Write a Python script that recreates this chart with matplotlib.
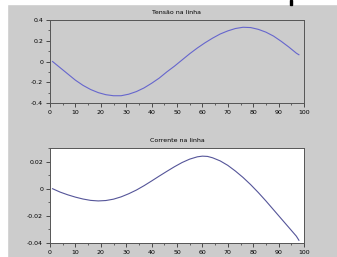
import numpy as np
import matplotlib.pyplot as plt
from matplotlib.patches import Rectangle
from matplotlib.ticker import MultipleLocator

# Tensão na linha
xv = [1, 4, 7, 10, 13, 16, 19, 22, 25, 28, 31, 34, 37, 40, 43, 46, 49, 52, 55, 58,
      61, 64, 67, 70, 73, 76, 79, 82, 85, 88, 91, 94, 97, 98]
tensao = [0.0, -0.06, -0.12, -0.18, -0.23, -0.27, -0.30, -0.32, -0.33, -0.33, -0.315,
          -0.29, -0.255, -0.21, -0.16, -0.10, -0.045, 0.015, 0.075, 0.13, 0.18, 0.225,
          0.265, 0.295, 0.318, 0.33, 0.327, 0.31, 0.283, 0.245, 0.195, 0.14, 0.08, 0.065]

# Corrente na linha
xi = [1, 4, 7, 10, 13, 16, 19, 22, 25, 28, 31, 34, 37, 40, 43, 46, 49, 52, 55, 58,
      60, 62, 64, 67, 70, 73, 76, 79, 82, 85, 88, 91, 94, 97, 98]
corrente = [0.0, -0.0025, -0.0045, -0.0062, -0.0076, -0.0086, -0.009, -0.0087, -0.0077,
            -0.006, -0.0037, -0.001, 0.0022, 0.0057, 0.0093, 0.0128, 0.0162, 0.0193,
            0.0218, 0.0235, 0.024, 0.0238, 0.0228, 0.0205, 0.0172, 0.013, 0.0083, 0.003,
            -0.0028, -0.009, -0.0155, -0.022, -0.0285, -0.035, -0.038]

gray = '#cccccc'
fig = plt.figure(figsize=(3.37, 2.57), dpi=100)
fig.patch.set_facecolor(gray)
# white strips at top / left edge, small black mark at top
fig.patches.append(Rectangle((0, 1 - 4/257), 1, 4/257, transform=fig.transFigure,
                             color='white', zorder=0))
fig.patches.append(Rectangle((0, 0), 7/337, 1, transform=fig.transFigure,
                             color='white', zorder=0))
fig.patches.append(Rectangle((290/337, 1 - 5/257), 2/337, 5/257, transform=fig.transFigure,
                             color='black', zorder=1))

def style(ax, title, bg):
    ax.set_facecolor(bg)
    ax.set_title(title, fontsize=4.5, pad=4)
    ax.tick_params(labelsize=4.5, length=3, width=0.6, color='#333333', pad=2,
                   right=False, top=False)
    ax.tick_params(which='minor', length=1.5, width=0.5, color='#333333')
    for s in ax.spines.values():
        s.set_color('#555555')
        s.set_linewidth(0.7)
    ax.set_xlim(0, 100)
    ax.xaxis.set_major_locator(MultipleLocator(10))
    ax.xaxis.set_minor_locator(MultipleLocator(5))

ax1 = fig.add_axes([50/337, 1 - 103/257, 254/337, 83/257])
ax1.plot(xv, tensao, color='#6666cc', lw=0.8)
style(ax1, 'Tensão na linha', gray)
ax1.set_ylim(-0.4, 0.4)
ax1.yaxis.set_minor_locator(MultipleLocator(0.1))
ax1.set_yticks([-0.4, -0.2, 0, 0.2, 0.4], ['-0.4', '-0.2', '0', '0.2', '0.4'])

ax2 = fig.add_axes([50/337, 1 - 243/257, 254/337, 95/257])
ax2.plot(xi, corrente, color='#555599', lw=0.8)
style(ax2, 'Corrente na linha', 'white')
ax2.set_ylim(-0.04, 0.03)
ax2.yaxis.set_minor_locator(MultipleLocator(0.01))
ax2.set_yticks([-0.04, -0.02, 0, 0.02], ['-0.04', '-0.02', '0', '0.02'])

fig.savefig('out.png', dpi=100, facecolor=fig.get_facecolor())
